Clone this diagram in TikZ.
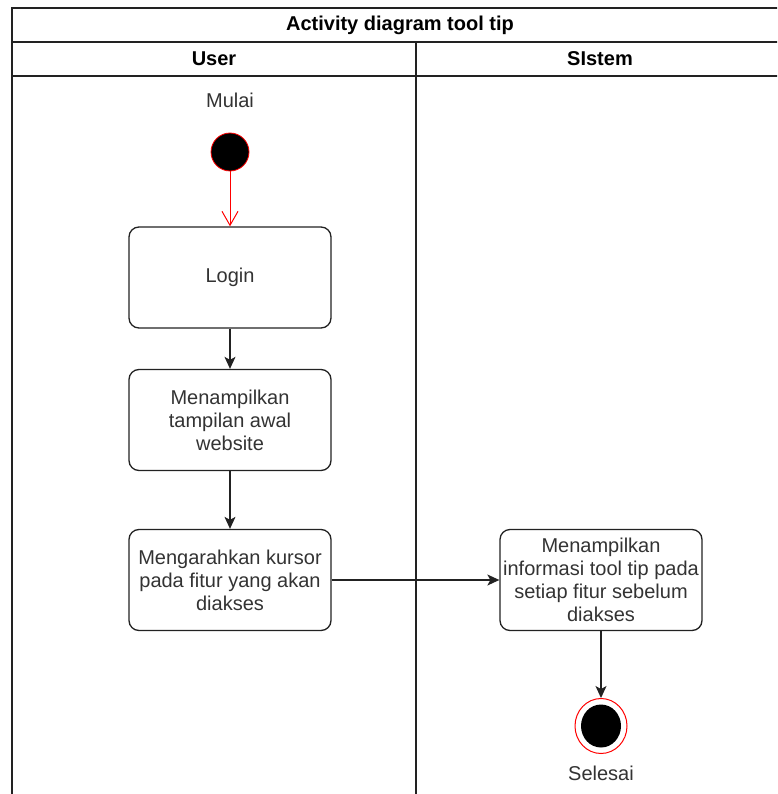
\documentclass[tikz,border=0pt]{standalone}
\usepackage{fontspec}
\setmainfont{Liberation Sans}
\usetikzlibrary{arrows.meta,shapes.geometric}
\definecolor{ink}{HTML}{222222}
\definecolor{txt}{HTML}{333333}
\definecolor{startred}{HTML}{FF0000}
\tikzset{
  lane/.style={draw=ink, line width=1.3pt},
  act/.style={draw=ink, line width=1.3pt, rounded corners=10pt, fill=white,
    minimum width=202pt, minimum height=101pt, align=center, text=txt,
    inner sep=1pt, font=\fontsize{20}{23}\selectfont},
  lbl/.style={text=txt, font=\fontsize{20}{23}\selectfont},
  hdr/.style={text=black, font=\bfseries\fontsize{20}{23}\selectfont},
  flow/.style={draw=ink, line width=1.3pt, -{Stealth[length=12pt,width=11pt,inset=3pt]}},
  redflow/.style={draw=startred, line width=1pt, -{Straight Barb[length=14pt,width=16pt]}},
}
\begin{document}
\begin{tikzpicture}[x=1pt, y=-1pt]
  \useasboundingbox (0,0) rectangle (777,794);
  \fill[white] (0,0) rectangle (777,794);
  \begin{scope}
    \clip (0,0) rectangle (777,794);
    % pool frame, title row and lane headers
    \draw[lane] (12,820) -- (12,8) -- (800,8);
    \draw[lane] (12,42) -- (800,42);
    \draw[lane] (12,76) -- (800,76);
    \draw[lane] (416,42) -- (416,820);
  \end{scope}
  \node[hdr] (title) at (400,25) {Activity diagram tool tip};
  \node[hdr] (user) at (214,59) {User};
  \node[hdr] (sys) at (600,59) {SIstem};

  % start node
  \node[lbl] (mulai) at (230,100) {Mulai};
  \node[circle, fill=black, draw=startred, line width=0.8pt, minimum size=38pt, inner sep=0pt] (start) at (230,152) {};

  % activities
  \node[act] (login) at (230,277.5) {Login};
  \node[act] (awal) at (230,420) {Menampilkan\\tampilan awal\\website};
  \node[act] (kursor) at (230,580) {Mengarahkan kursor\\pada fitur yang akan\\diakses};
  \node[act] (info) at (601,580) {Menampilkan\\informasi tool tip pada\\setiap fitur sebelum\\diakses};

  % end node
  \node[ellipse, draw=startred, line width=1pt, fill=white, minimum width=52pt, minimum height=55pt, inner sep=0pt] (stop) at (601,726) {};
  \node[ellipse, fill=black, minimum width=40pt, minimum height=43pt, inner sep=0pt] (stopdot) at (stop.center) {};
  \node[lbl] (selesai) at (601,773) {Selesai};

  % flows
  \draw[redflow] (start) -- (login);
  \draw[flow] (login) -- (awal);
  \draw[flow] (awal) -- (kursor);
  \draw[flow] (kursor) -- (info);
  \draw[flow] (info) -- (stop);
\end{tikzpicture}
\end{document}
